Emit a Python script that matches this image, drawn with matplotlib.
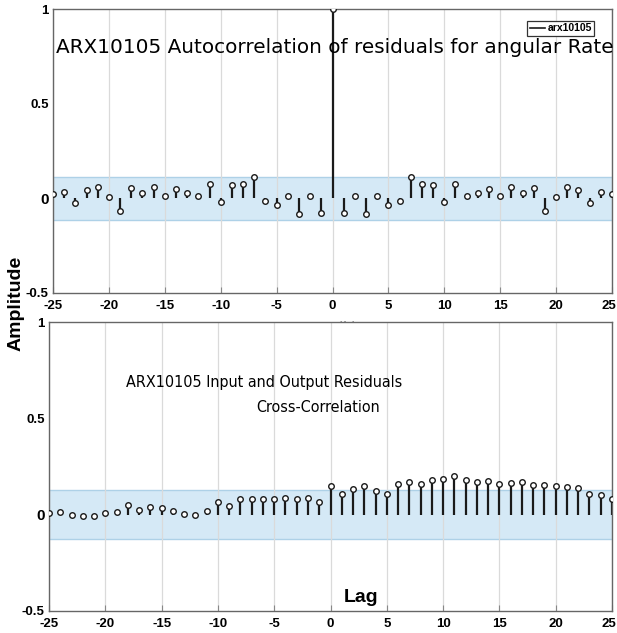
import matplotlib
matplotlib.use('Agg')
import matplotlib.pyplot as plt
from matplotlib.lines import Line2D
from matplotlib.transforms import ScaledTranslation
import numpy as np

lags = list(range(-25, 26))

# autocorrelation of residuals (top)
auto_vals = [0.02, 0.035, -0.026, 0.044, 0.06, 0.005, -0.067, 0.055, 0.026, 0.06,
             0.012, 0.05, 0.026, 0.012, 0.076, -0.018, 0.07, 0.074, 0.115, -0.014,
             -0.035, 0.012, -0.083, 0.012, -0.08,
             1.0,
             -0.08, 0.012, -0.083, 0.01, -0.035, -0.014, 0.115, 0.074, 0.07, -0.018,
             0.076, 0.012, 0.026, 0.05, 0.012, 0.06, 0.026, 0.055, -0.067, 0.005,
             0.06, 0.044, -0.026, 0.035, 0.02]

# input/output cross-correlation (bottom)
cross_vals = [0.006, 0.015, -0.003, -0.006, -0.006, 0.006, 0.011, 0.05, 0.024, 0.04,
              0.032, 0.018, 0.003, -0.003, 0.018, 0.067, 0.045, 0.08, 0.08, 0.08,
              0.08, 0.085, 0.08, 0.088, 0.067,
              0.149,
              0.107, 0.132, 0.146, 0.12, 0.106, 0.158, 0.17, 0.16, 0.18, 0.186,
              0.198, 0.18, 0.167, 0.175, 0.158, 0.163, 0.168, 0.153, 0.153, 0.149,
              0.142, 0.137, 0.107, 0.102, 0.08]

auto_band = 0.113
cross_band = 0.128

xticks = [-25, -20, -15, -10, -5, 0, 5, 10, 15, 20, 25]
yticks = [-0.5, 0, 0.5, 1]
ytick_labels = ['-0.5', '0', '0.5', '1']

band_face = '#d5e9f6'
band_edge = '#aed1e7'
tick_font = dict(family='Liberation Sans', weight='bold', size=9.5)

fig = plt.figure(figsize=(6.17, 6.33), dpi=100)
ax1 = fig.add_axes([53 / 617, 1 - 292.7 / 633, 559 / 617, 283.4 / 633])
ax2 = fig.add_axes([49 / 617, 1 - 610.7 / 633, 563 / 617, 288.4 / 633])


def style(ax, vals, band):
    ax.axhspan(-band, band, color=band_face, zorder=0, lw=0)
    ax.axhline(band, color=band_edge, lw=1, zorder=0.5)
    ax.axhline(-band, color=band_edge, lw=1, zorder=0.5)
    ml, sl, bl = ax.stem(lags, vals, basefmt=' ')
    plt.setp(sl, color='#1a1a1a', lw=1.6, zorder=2)
    plt.setp(ml, marker='o', markersize=4, markerfacecolor='white',
             markeredgecolor='#1a1a1a', markeredgewidth=1.0, zorder=3)
    ax.set_xlim(-25, 25)
    ax.set_ylim(-0.5, 1)
    ax.set_xticks(xticks)
    ax.set_yticks(yticks)
    ax.set_xticklabels([str(t) for t in xticks], fontdict=tick_font)
    ax.set_yticklabels(ytick_labels, fontdict=tick_font)
    ax.get_yticklabels()[1].set_fontsize(11)
    ax.tick_params(axis='x', direction='in', length=4, color='#888888', pad=5)
    ax.tick_params(axis='y', length=0, pad=3)
    # last tick label sits at the figure edge
    last = ax.get_xticklabels()[-1]
    last.set_transform(last.get_transform() + ScaledTranslation(-3 / 100, 0, fig.dpi_scale_trans))
    ax.grid(axis='x', color='#dadada', lw=0.9, zorder=0.2)
    ax.set_axisbelow(True)
    for s in ax.spines.values():
        s.set_color('#666666')
        s.set_linewidth(1.0)


style(ax1, auto_vals, auto_band)
style(ax2, cross_vals, cross_band)

ax1.text(0.504, 0.865, 'ARX10105 Autocorrelation of residuals for angular Rate',
         transform=ax1.transAxes, ha='center', va='center', fontsize=14.4,
         family='DejaVu Sans', zorder=4)
# top x label is mostly hidden behind the lower axes, as in the original
ax1.set_xlabel('Lag (k)', fontsize=10, labelpad=7, color='#777777')

leg = ax1.legend([Line2D([], [], color='#1a1a1a', lw=1.2)], ['arx10105'],
                 loc='upper right', bbox_to_anchor=(0.978, 0.978),
                 prop=dict(family='Liberation Sans', weight='bold', size=7.5),
                 handlelength=1.5, handletextpad=0.2, borderpad=0.25,
                 fancybox=False, framealpha=1, edgecolor='#333333')
leg.get_frame().set_linewidth(0.9)

ax2.text(0.382, 0.79, 'ARX10105 Input and Output Residuals',
         transform=ax2.transAxes, ha='center', va='center', fontsize=11.5,
         stretch='condensed')
ax2.text(0.478, 0.703, 'Cross-Correlation',
         transform=ax2.transAxes, ha='center', va='center', fontsize=11.5,
         stretch='condensed')
ax2.text(0.555, 0.047, 'Lag', transform=ax2.transAxes, ha='center', va='center',
         fontsize=14, weight='bold', family='Liberation Sans')

fig.text(0.026, 0.52, 'Amplitude', rotation=90, ha='center', va='center',
         fontsize=14, weight='bold', family='Liberation Sans')

fig.savefig('out.png', dpi=100)
